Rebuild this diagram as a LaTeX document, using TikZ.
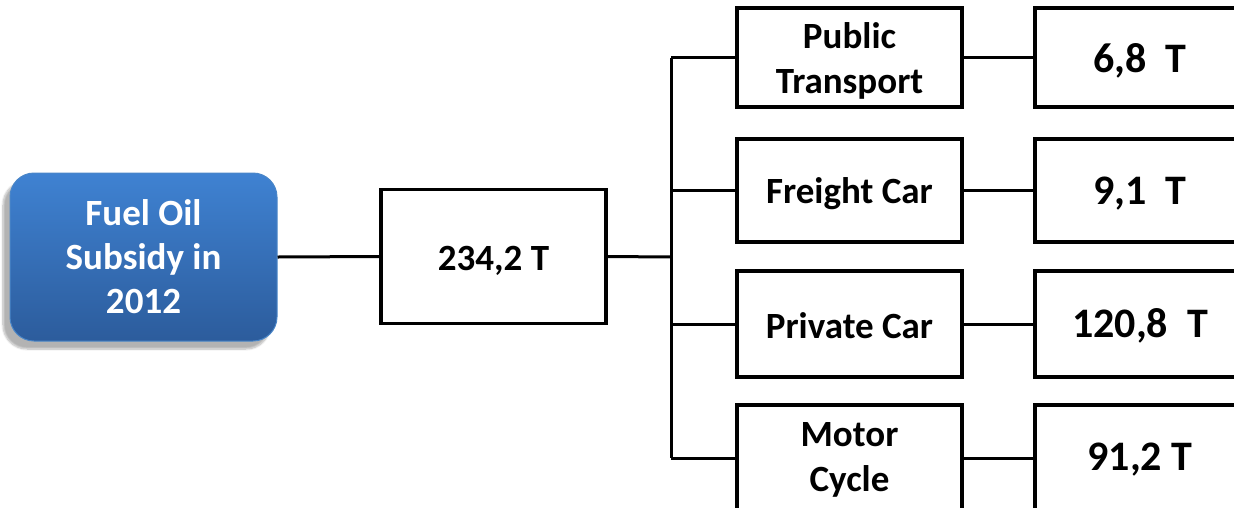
\documentclass[tikz,border=0pt]{standalone}
\usepackage{fontspec}
\setmainfont{Carlito}
\usetikzlibrary{shadows.blur}
\definecolor{topblue}{HTML}{3F82D2}
\definecolor{botblue}{HTML}{2C5C9C}
\definecolor{edgeblue}{HTML}{4A86C8}
\tikzset{
  box/.style={draw=black, line width=3.5pt, fill=white, inner sep=0pt},
  lbl/.style={align=center, inner sep=0pt, font=\fontsize{37}{45}\selectfont\bfseries},
  vlbl/.style={align=center, inner sep=0pt, font=\fontsize{42}{46}\selectfont\bfseries},
  conn/.style={line width=3pt},
  rootbox/.style={rounded corners=24pt, draw=edgeblue, line width=1pt,
    top color=topblue, bottom color=botblue, text=white, align=center,
    font=\fontsize{37}{44}\selectfont\bfseries,
    blur shadow={shadow xshift=-7pt, shadow yshift=-8pt, shadow blur steps=8, shadow opacity=30}}
}
\begin{document}
\begin{tikzpicture}[x=1pt,y=-1pt]
\useasboundingbox (0,0) rectangle (1234,507);
\node[rootbox, minimum width=267pt, minimum height=168pt] (root) at (143.5,257) {Fuel Oil\\Subsidy in\\2012};
\node[box, minimum width=225pt, minimum height=134pt] (total) at (493.5,256.5) {};
\node[box, minimum width=225pt, minimum height=99pt] (m1) at (849.5,57.5) {};
\node[box, minimum width=225pt, minimum height=103pt] (m2) at (849.5,190.5) {};
\node[box, minimum width=225pt, minimum height=106pt] (m3) at (849.5,324) {};
\node[box, minimum width=225pt, minimum height=106pt] (m4) at (849.5,458) {};
\node[box, minimum width=210pt, minimum height=99pt] (v1) at (1140,57.5) {};
\node[box, minimum width=210pt, minimum height=103pt] (v2) at (1140,190.5) {};
\node[box, minimum width=210pt, minimum height=106pt] (v3) at (1140,324) {};
\node[box, minimum width=210pt, minimum height=106pt] (v4) at (1140,458) {};
\node[lbl] (totalt) at ([yshift=-4pt]total.center) {234,2 T};
\node[lbl] (m1t) at ([yshift=-3pt]m1.center) {Public\\Transport};
\node[lbl] (m2t) at ([yshift=-3pt]m2.center) {Freight Car};
\node[lbl] (m3t) at ([yshift=-2pt]m3.center) {Private Car};
\node[lbl] (m4t) at ([yshift=-2pt]m4.center) {Motor\\Cycle};
\node[vlbl] (v1t) at ([yshift=-3pt]v1.center) {6,8\ \ T};
\node[vlbl] (v2t) at ([yshift=-3pt]v2.center) {9,1\ \ T};
\node[vlbl] (v3t) at ([yshift=-2pt]v3.center) {120,8\ \ T};
\node[vlbl] (v4t) at ([yshift=-2pt]v4.center) {91,2 T};
\coordinate (trunk) at (671,257);
\draw[conn] (root.east) -- (total.west);
\draw[conn] (total.east) -- (trunk);
\draw[conn] (trunk |- m1.west) -- (trunk |- m4.west);
\foreach \i in {1,2,3,4} {
  \draw[conn] (trunk |- m\i.west) -- (m\i.west);
  \draw[conn] (m\i.east) -- (v\i.west);
}
\end{tikzpicture}
\end{document}
